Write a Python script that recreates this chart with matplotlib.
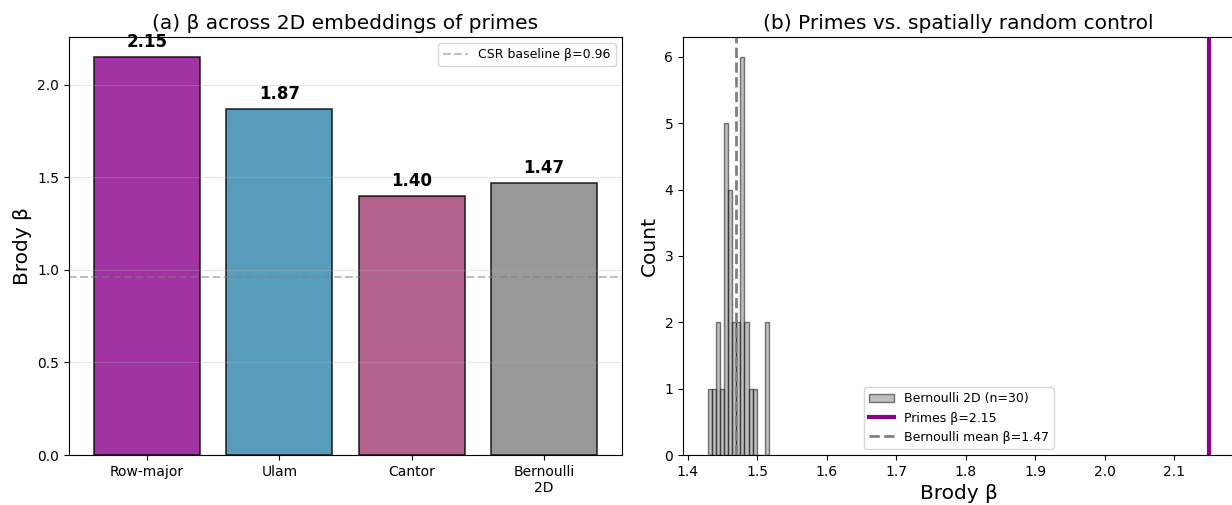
import numpy as np
import matplotlib.pyplot as plt

# Panel (a): Brody beta per embedding
embeddings = ['Row-major', 'Ulam', 'Cantor', 'Bernoulli\n2D']
beta_values = [2.15, 1.87, 1.40, 1.47]
bar_colors = ['#8B008B', '#2E86AB', '#A23B72', 'gray']
csr_beta = 0.96

# Panel (b): Brody beta for 30 Bernoulli 2D random controls
bernoulli_betas = [
    1.4295, 1.438, 1.443, 1.445, 1.450,
    1.454, 1.455, 1.456, 1.457, 1.458,
    1.460, 1.461, 1.462, 1.463, 1.466,
    1.468, 1.472, 1.474, 1.477, 1.478,
    1.479, 1.480, 1.480, 1.481, 1.483,
    1.486, 1.490, 1.496, 1.512, 1.5167,
]
primes_beta = 2.15

fig = plt.figure(figsize=(12.32, 5.05), dpi=100)
ax1 = fig.add_axes([0.056, 0.099, 0.4489, 0.8277])
ax2 = fig.add_axes([0.5544, 0.099, 0.4475, 0.8277])

# --- (a) bars
x = np.arange(len(embeddings))
ax1.bar(x, beta_values, width=0.8, color=bar_colors, alpha=0.8,
        edgecolor='black', linewidth=1.2)
for xi, v in zip(x, beta_values):
    ax1.text(xi, v + 0.03, f'{v:.2f}', ha='center', va='bottom',
             fontsize=12, fontweight='bold')
ax1.axhline(csr_beta, color='gray', linestyle='--', alpha=0.5,
            linewidth=1.5, label=f'CSR baseline β={csr_beta:.2f}')
ax1.set_xticks(x)
ax1.set_xticklabels(embeddings, fontsize=10)
ax1.set_ylabel('Brody β', fontsize=14.5)
ax1.set_title('(a) β across 2D embeddings of primes', fontsize=14.5)
ax1.grid(axis='y', alpha=0.3)
ax1.legend(loc='upper right', fontsize=9)

# --- (b) histogram vs primes
bern = np.array(bernoulli_betas)
ax2.hist(bern, bins=15, color='gray', alpha=0.5, edgecolor='black',
         label=f'Bernoulli 2D (n={len(bern)})')
ax2.axvline(primes_beta, color='#8B008B', linewidth=3,
            label=f'Primes β={primes_beta:.2f}')
ax2.axvline(bern.mean(), color='gray', linestyle='--', linewidth=2,
            label=f'Bernoulli mean β={bern.mean():.2f}')
ax2.set_xlabel('Brody β', fontsize=14.5)
ax2.set_ylabel('Count', fontsize=14.5)
ax2.set_title('(b) Primes vs. spatially random control', fontsize=14.5)
ax2.legend(loc='lower center', fontsize=9)

fig.savefig('out.png', dpi=100)
